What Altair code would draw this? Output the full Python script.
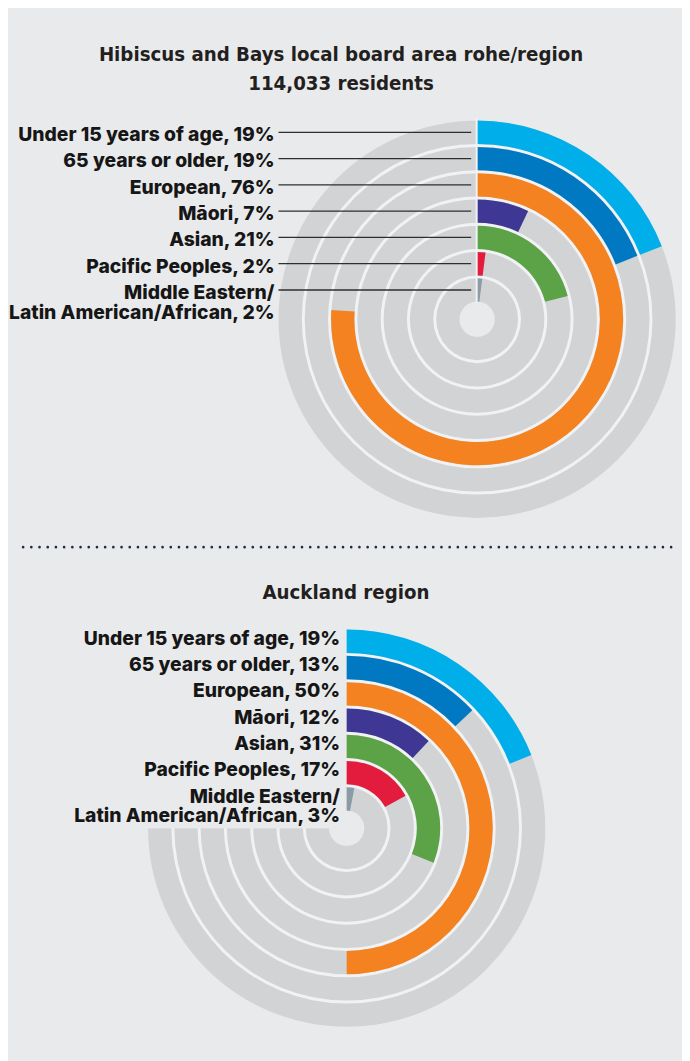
import math
import altair as alt
import pandas as pd

# ---------------- data ----------------
categories = [
    "Under 15 years of age",
    "65 years or older",
    "European",
    "Māori",
    "Asian",
    "Pacific Peoples",
    "Middle Eastern/\nLatin American/African",
]
hb_values = [19, 19, 76, 7, 21, 2, 2]
akl_values = [19, 13, 50, 12, 31, 17, 3]
colors = ["#00aeea", "#0079c2", "#f58220", "#3e3794", "#5ba346", "#e31c3d", "#8a9ba6"]
hb_title = ["Hibiscus and Bays local board area rohe/region", "114,033 residents"]
akl_title = ["Auckland region"]

# ---------------- styles ----------------
BG = "#e9eaec"
GRAY = "#d2d3d5"
GAP = "#f1f2f3"
TEXT = "#161616"
TITLE_FONT = "Liberation Sans Narrow, DejaVu Sans Condensed, Roboto Condensed, sans-serif"
LABEL_FONT = "Inter, Roboto, sans-serif"

HOLE = 17.8     # px, inner radius of innermost ring
PITCH = 26.6    # px, ring spacing
THICK = 23.6    # px, ring thickness
T = THICK / PITCH
N = len(categories)

theta_scale = alt.Scale(domain=[0, 100], range=[0, 2 * math.pi])
radius_scale = alt.Scale(type="linear", domain=[0, N], range=[HOLE, HOLE + N * PITCH], zero=False, nice=False)


def make_df(values):
    return pd.DataFrame({
        "cat": categories,
        "value": values,
        "ring": list(range(N - 1, -1, -1)),
        "label": [f"{c}, {v}%" for c, v in zip(categories, values)],
    })


def panel(values, title_lines, cx, cy, h, span, title_x, title_y,
          label_x, label_dy, leader=None, dots=False):
    df = make_df(values)
    yscale = alt.Scale(domain=[0, N], range=[cy - HOLE, cy - HOLE - N * PITCH], zero=False, nice=False)

    base = alt.Chart(df).transform_calculate(
        r0="datum.ring", r1=f"datum.ring + {T}", t0="0", tspan=str(span),
        yc=f"datum.ring + {T / 2}",
    )

    under = base.transform_filter("datum.ring == 0").transform_calculate(
        rr1=f"{N - 1} + {T}"
    ).mark_arc(x=cx, y=cy, color=GAP).encode(
        theta=alt.Theta("t0:Q", scale=theta_scale, stack=False),
        theta2="tspan:Q",
        radius=alt.Radius("r0:Q", scale=radius_scale),
        radius2="rr1:Q",
    )

    gray = base.mark_arc(x=cx, y=cy, color=GRAY).encode(
        theta=alt.Theta("t0:Q", scale=theta_scale, stack=False),
        theta2="tspan:Q",
        radius=alt.Radius("r0:Q", scale=radius_scale),
        radius2="r1:Q",
    )

    colored = base.mark_arc(x=cx, y=cy).encode(
        theta=alt.Theta("t0:Q", scale=theta_scale, stack=False),
        theta2="value:Q",
        radius=alt.Radius("r0:Q", scale=radius_scale),
        radius2="r1:Q",
        color=alt.Color("cat:N", scale=alt.Scale(domain=categories, range=colors), legend=None),
    )

    labels = base.mark_text(
        align="right", baseline="alphabetic", dy=label_dy, font=LABEL_FONT,
        fontSize=19.5, fontWeight=800, lineBreak="\n", lineHeight=20, color=TEXT,
    ).encode(
        x=alt.value(label_x),
        y=alt.Y("yc:Q", scale=yscale, axis=None),
        text="label:N",
    )

    tdf = pd.DataFrame({"t": ["\n".join(title_lines)]})
    title = alt.Chart(tdf).mark_text(
        font=TITLE_FONT, fontSize=20.5, fontWeight="bold", lineBreak="\n", lineHeight=29.4,
        align="center", baseline="alphabetic", color="#231f20",
    ).encode(x=alt.value(title_x), y=alt.value(title_y), text="t:N")

    layers = [under, gray, colored]
    if span >= 100:
        gap_rule = alt.Chart(tdf).mark_rule(color=GAP, strokeWidth=2).encode(
            x=alt.value(cx - 0.5), y=alt.value(cy - HOLE - N * PITCH), y2=alt.value(cy - HOLE + 1)
        )
        layers.append(gap_rule)
    if leader is not None:
        leaders = base.mark_rule(color="#2e2e2e", strokeWidth=1.3).encode(
            x=alt.value(leader[0]), x2=alt.value(leader[1]),
            y=alt.Y("yc:Q", scale=yscale, axis=None),
        )
        layers.append(leaders)
    layers += [labels, title]
    if dots:
        dotted = alt.Chart(tdf).mark_rule(
            strokeDash=[0, 8.3], strokeCap="round", strokeWidth=2.7, color="#1d2b45"
        ).encode(x=alt.value(15.3), x2=alt.value(673), y=alt.value(539.3))
        layers.append(dotted)
    return alt.layer(*layers).properties(width=682, height=h)


top = panel(hb_values, hb_title, cx=474.7, cy=308.7, h=545, span=100,
            title_x=337, title_y=47, label_x=269.7, label_dy=9,
            leader=(273.7, 468.7), dots=True)
bottom = panel(akl_values, akl_title, cx=342.7, cy=278.7, h=508, span=75,
               title_x=342, title_y=47, label_x=336, label_dy=3.7)

chart = alt.vconcat(top, bottom, spacing=0).properties(padding=0).configure(
    background=BG
).configure_view(strokeWidth=0)

chart.save("out.html", embed_options={"renderer": "svg", "actions": False})
